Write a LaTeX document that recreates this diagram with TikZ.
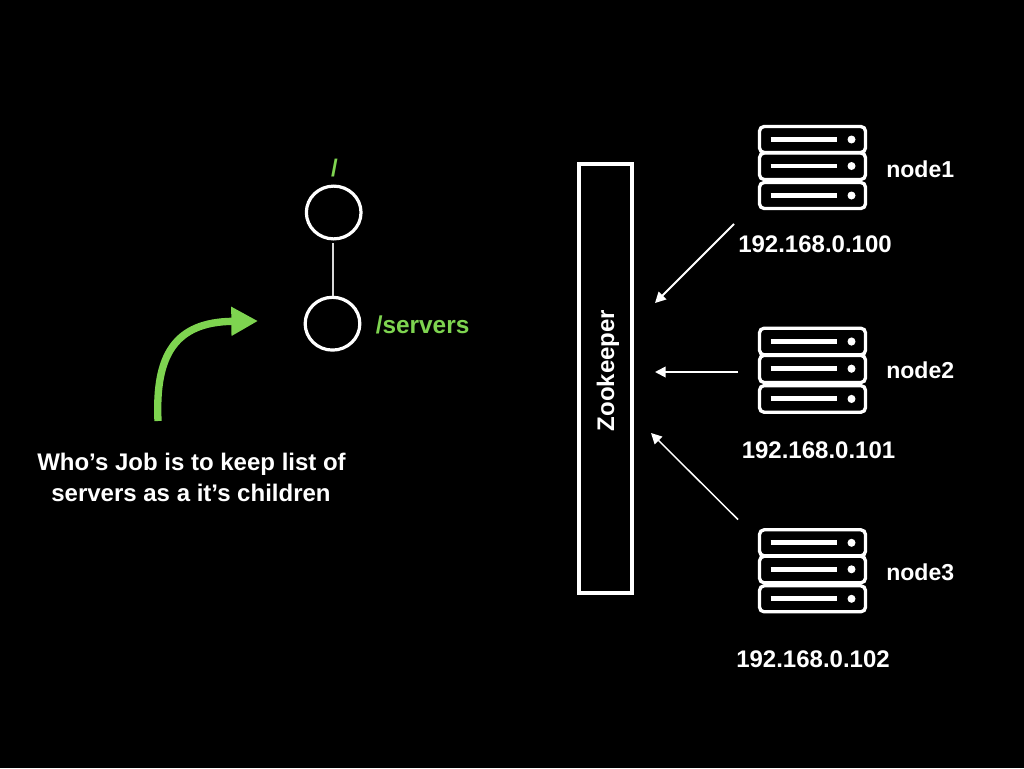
\documentclass[tikz,border=0pt]{standalone}
\usepackage{fontspec}
\setmainfont{Liberation Sans}
\usetikzlibrary{arrows.meta,shapes.geometric}
\definecolor{lime}{HTML}{7ED450}
\tikzset{
  lbl/.style={text=white,font=\fontsize{18}{21}\selectfont\bfseries,inner sep=0pt,anchor=center},
  nlbl/.style={lbl,anchor=west,font=\fontsize{17.3}{21}\selectfont\bfseries},
  glbl/.style={lbl,text=lime},
  ring/.style={ellipse,draw=white,line width=2.4pt,minimum width=41pt,minimum height=39.6pt,inner sep=0pt},
  srv/.style={draw=white,line width=2.5pt,rounded corners=3.5pt},
  bar/.style={draw=white,line width=3.7pt},
  ptr/.style={draw=white,line width=1.4pt,-{Triangle[length=8pt,width=8pt]}},
}
\newcommand{\servericon}[3]{%
  \begin{scope}[shift={(#1,#2)},yscale=#3]
    \draw[srv] (0,0) rectangle (106,26);
    \draw[srv] (0,26.5) rectangle (106,53);
    \draw[srv] (0,56) rectangle (106,82);
    \draw[bar] (11,13) -- (77,13);
    \draw[bar] (11,39.5) -- (77,39.5);
    \draw[bar] (11,69) -- (77,69);
    \fill[white] (92,13) circle (4) (92,39.5) circle (4) (92,69) circle (4);
  \end{scope}}
\begin{document}
\begin{tikzpicture}[x=0.75pt,y=-0.75pt]
\useasboundingbox (0,0) rectangle (1024,768);
\fill[black] (0,0) rectangle (1024,768);
% tree
\node[ring] (root) at (333.7,212.5) {};
\node[ring] (servers) at (332.5,323.7) {};
\draw[white!85!black,line width=1.5pt] (332.7,243) -- (332.7,296);
\node[glbl] (rootlbl) at (334.5,168.5) {/};
\node[glbl,anchor=west,font=\fontsize{18.3}{21}\selectfont\bfseries] (srvlbl) at (375.5,325) {/servers};
% green arrow
\coordinate (gs) at (158,421);
\coordinate (ge) at (258,321);
\draw[lime,line width=5.5pt,-{Triangle[length=20pt,width=20.5pt]}] (gs) .. controls (155,355) and (175,322) .. (ge);
\node[lbl] (caption1) at (191.5,464) {Who’s Job is to keep list of};
\node[lbl] (caption2) at (191,493) {servers as a it’s children};
% zookeeper
\node[draw=white,line width=3.4pt,minimum width=40pt,minimum height=322pt,inner sep=0pt] (zk) at (605.5,378.5) {};
\node[lbl,rotate=90] (zklbl) at (608,370.5) {Zookeeper};
% servers
\servericon{759.5}{126.5}{1}
\servericon{759.5}{328.2}{1.025}
\servericon{759.5}{529.8}{1}
\node[nlbl] (n1) at (886,169) {node1};
\node[nlbl] (n2) at (886,370) {node2};
\node[nlbl] (n3) at (886,572) {node3};
\node[lbl] (ip1) at (815,244.5) {192.168.0.100};
\node[lbl] (ip2) at (818.5,450.5) {192.168.0.101};
\node[lbl] (ip3) at (813,659.5) {192.168.0.102};
% arrows
\coordinate (a1s) at (734,224); \coordinate (a1e) at (655,303);
\coordinate (a2s) at (738,372); \coordinate (a2e) at (655,372);
\coordinate (a3s) at (738,519.5); \coordinate (a3e) at (651,433);
\draw[ptr] (a1s) -- (a1e);
\draw[ptr] (a2s) -- (a2e);
\draw[ptr,line width=1.1pt] (a3s) -- (a3e);
\end{tikzpicture}
\end{document}
